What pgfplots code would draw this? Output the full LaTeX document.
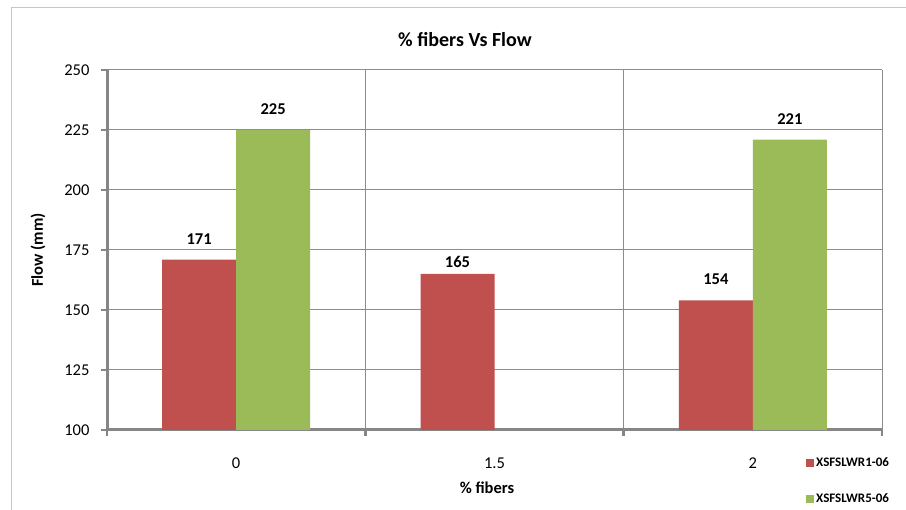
\documentclass[border=0pt]{standalone}
\usepackage{pgfplots}
\pgfplotsset{compat=1.18}
\usepackage{fontspec}
\setmainfont{Carlito}
\definecolor{barred}{HTML}{C0504D}
\definecolor{bargreen}{HTML}{9BBB59}
\definecolor{axgray}{HTML}{868686}
\definecolor{gridgray}{HTML}{8C8C8C}
\begin{document}
\begin{tikzpicture}[x=1pt,y=1pt]
\useasboundingbox (0,0) rectangle (906,510);
\draw[gray!45, line width=1pt] (11,0) -- (11,502) -- (906,502);
\node[font=\bfseries\fontsize{20}{20}\selectfont] at (465,470) {\% fibers Vs Flow};
\node[font=\bfseries\fontsize{16.5}{16.5}\selectfont, rotate=90] at (38,260) {Flow (mm)};
\node[font=\bfseries\fontsize{16.5}{16.5}\selectfont] at (487,22) {\% fibers};
\begin{axis}[
  at={(107pt,80pt)}, anchor=south west, scale only axis,
  width=775pt, height=360pt,
  xmin=-0.5, xmax=2.5, ymin=100, ymax=250,
  ytick={100,125,...,250},
  xtick={-0.5,0.5,1.5,2.5}, xticklabels={},
  extra x ticks={0,1,2}, extra x tick labels={0,1.5,2},
  extra x tick style={major tick length=0pt, grid=none},
  xmajorgrids, ymajorgrids,
  grid style={gridgray, line width=1pt},
  axis x line*=bottom, axis y line*=left,
  axis line style={axgray, line width=3pt},
  tick align=outside, major tick length=6pt,
  tick style={axgray, line width=2.5pt},
  /pgf/number format/assume math mode=true,
  tick label style={font=\fontsize{16.5}{16.5}\selectfont},
  yticklabel style={xshift=-8pt},
  xticklabel style={yshift=-24pt},
  ybar=0pt, bar width=74pt,
  nodes near coords,
  nodes near coords style={font=\bfseries\fontsize{16.5}{16.5}\selectfont},
  legend image code/.code={\fill[#1,draw=none] (0pt,-4pt) rectangle (8pt,4pt);},
  legend style={at={(rel axis cs:0.902,-0.07)}, anchor=north west, draw=none, fill=none,
    font=\bfseries\fontsize{13}{13}\selectfont, row sep=22pt, inner sep=0pt,
    nodes={inner sep=2pt}},
  legend cell align=left,
]
\addplot[fill=barred, draw=none,
  visualization depends on={rawy \as \yv},
  nodes near coords style={yshift={ifthenelse(abs(\yv-165)<0.5,3,12)}}]
  coordinates {(0,171) (1,165) (2,154)};
\addplot[fill=bargreen, draw=none, nodes near coords style={yshift=12pt}]
  coordinates {(0,225) (2,221)};
\legend{XSFSLWR1-06, XSFSLWR5-06}
\end{axis}
\end{tikzpicture}
\end{document}
